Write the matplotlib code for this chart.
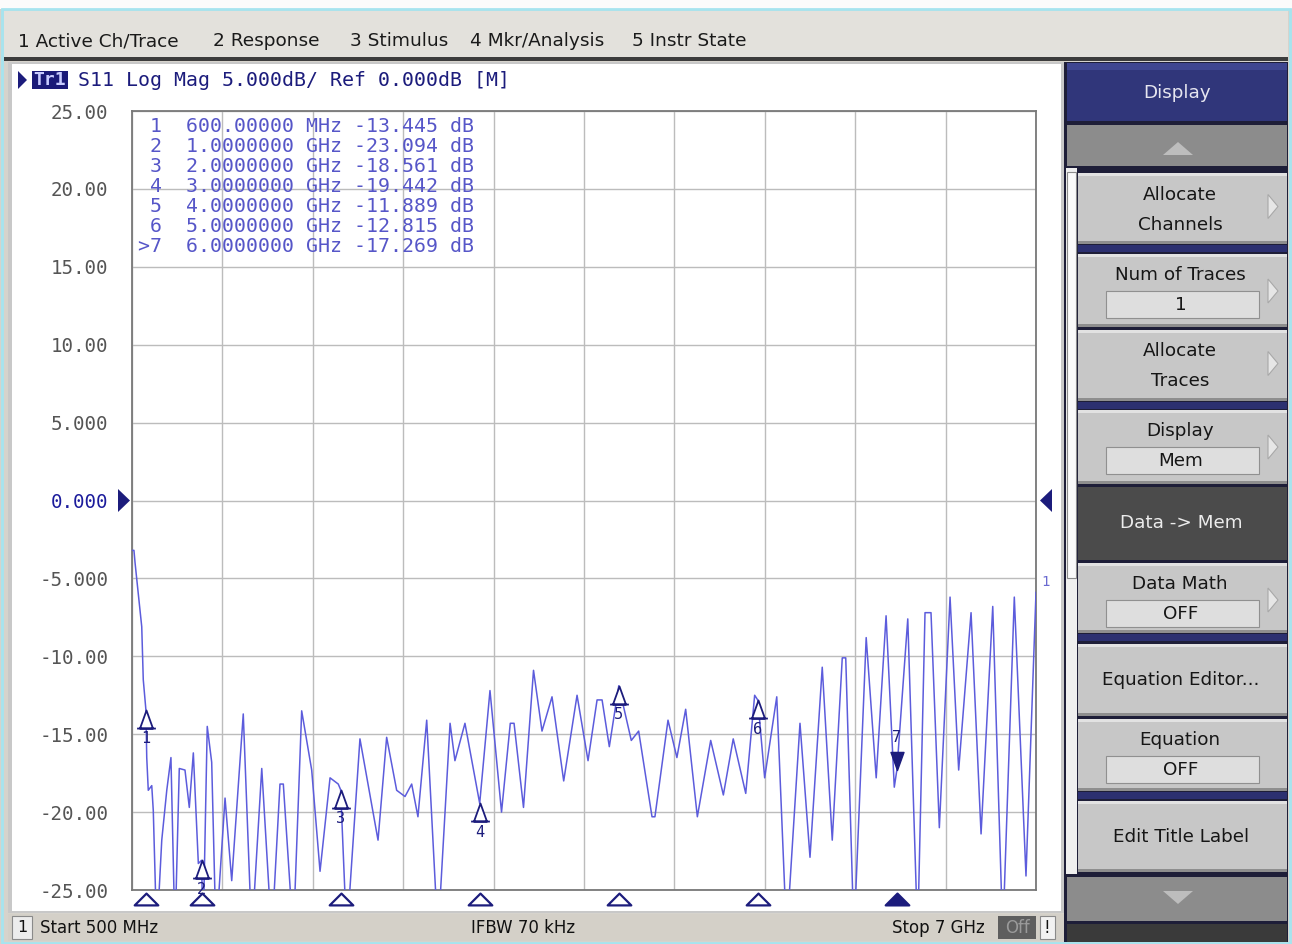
import numpy as np
import matplotlib
matplotlib.use("Agg")
import matplotlib.pyplot as plt
from matplotlib.patches import Rectangle, Polygon
from matplotlib.path import Path
import matplotlib.transforms as mtransforms

# ---------------------------------------------------------------- data
freq_ghz = [0.500, 0.514, 0.522, 0.543, 0.570, 0.581, 0.600, 0.606, 0.617, 0.642,
            0.653, 0.678, 0.714, 0.750, 0.780, 0.809, 0.840, 0.881, 0.912, 0.941,
            0.977, 1.000, 1.011, 1.041, 1.073, 1.104, 1.169, 1.217, 1.300, 1.361,
            1.433, 1.505, 1.564, 1.588, 1.660, 1.720, 1.792, 1.852, 1.924, 1.983,
            2.000, 2.044, 2.139, 2.269, 2.331, 2.403, 2.463, 2.511, 2.556, 2.619,
            2.700, 2.787, 2.822, 2.894, 3.000, 3.074, 3.157, 3.220, 3.247, 3.315,
            3.387, 3.448, 3.520, 3.604, 3.700, 3.779, 3.844, 3.880, 3.932, 4.000,
            4.090, 4.143, 4.239, 4.260, 4.354, 4.418, 4.481, 4.565, 4.661, 4.752,
            4.823, 4.913, 4.977, 5.000, 5.049, 5.136, 5.207, 5.303, 5.375, 5.463,
            5.535, 5.607, 5.632, 5.691, 5.779, 5.851, 5.922, 5.981, 6.000, 6.078,
            6.149, 6.202, 6.245, 6.305, 6.382, 6.444, 6.533, 6.605, 6.689, 6.761,
            6.844, 6.928, 7.000]
s11_db = [-3.2, -3.2, -4.0, -5.8, -8.1, -11.5, -13.445, -16.5, -18.6, -18.3,
          -19.9, -28.0, -21.8, -18.6, -16.5, -28.0, -17.2, -17.3, -19.7, -16.2,
          -23.3, -23.094, -28.0, -14.5, -16.8, -28.0, -19.1, -24.4, -13.7, -28.0,
          -17.2, -28.0, -18.2, -18.2, -28.0, -13.5, -17.3, -23.8, -17.8, -18.2,
          -18.561, -28.0, -15.3, -21.8, -15.2, -18.6, -19.0, -18.2, -20.3, -14.1,
          -28.0, -14.3, -16.7, -14.3, -19.442, -12.2, -20.0, -14.3, -14.3, -19.7,
          -10.9, -14.8, -12.6, -18.0, -12.5, -16.7, -12.8, -12.8, -15.8, -11.889,
          -15.4, -14.8, -20.3, -20.3, -14.1, -16.5, -13.4, -20.3, -15.4, -18.9,
          -15.3, -18.8, -12.5, -12.815, -17.8, -12.6, -28.0, -14.3, -22.9, -10.7,
          -21.8, -10.1, -10.1, -28.0, -8.8, -17.8, -7.4, -18.4, -17.269, -7.6,
          -28.0, -7.2, -7.2, -21.0, -6.2, -17.3, -7.2, -21.4, -6.8, -28.0,
          -6.2, -24.1, -5.9]

marker_ids = [1, 2, 3, 4, 5, 6, 7]
marker_freq_ghz = [0.6, 1.0, 2.0, 3.0, 4.0, 5.0, 6.0]
marker_db = [-13.445, -23.094, -18.561, -19.442, -11.889, -12.815, -17.269]
active_marker = 7

start_ghz, stop_ghz = 0.5, 7.0
ref_db, scale_db = 0.0, 5.0
ytick_labels = ["-25.00", "-20.00", "-15.00", "-10.00", "-5.000", "0.000",
                "5.000", "10.00", "15.00", "20.00", "25.00"]

menu_items = ["1 Active Ch/Trace", "2 Response", "3 Stimulus",
              "4 Mkr/Analysis", "5 Instr State"]
header_text = "S11 Log Mag 5.000dB/ Ref 0.000dB [M]"
status_left = "Start 500 MHz"
status_mid = "IFBW 70 kHz"
status_right = "Stop 7 GHz"

# ---------------------------------------------------------------- canvas helpers
W, H = 1292, 944
fig = plt.figure(figsize=(W / 100, H / 100), dpi=100)
fig.patch.set_facecolor("#d6d3cc")

NAVY = "#1c1c7c"
TRACE = "#5c5cdc"
TABLE = "#5656c8"
UI_FONT = "DejaVu Sans"
MONO = "DejaVu Sans Mono"


def X(x):
    return x / W


def Y(y):
    return 1 - y / H


def box(x0, y0, x1, y1, fc, ec="none", lw=0.0, z=0):
    fig.patches.append(Rectangle((X(x0), Y(y1)), (x1 - x0) / W, (y1 - y0) / H,
                                 transform=fig.transFigure, facecolor=fc,
                                 edgecolor=ec, linewidth=lw, zorder=z))


def poly(pts, fc, ec="none", lw=0.0, z=6):
    fig.patches.append(Polygon([(X(a), Y(b)) for a, b in pts], closed=True,
                               transform=fig.transFigure, facecolor=fc,
                               edgecolor=ec, linewidth=lw, zorder=z))


def label(x, y, s, ha="left", **kw):
    kw.setdefault("zorder", 7)
    fig.text(X(x), Y(y), s, ha=ha, va="center", **kw)


# ---------------------------------------------------------------- window frame
box(0, 0, W, 9, "#fbfbfb")
box(2, 9, W - 2, H - 1, "none", ec="#a6e4ef", lw=2.0, z=1)
box(4, 11, W - 4, 57, "#e3e1dc")
box(4, 57, W - 4, 61, "#3c3c3c")

menu_x = [18, 213, 350, 470, 632]
for mx, item in zip(menu_x, menu_items):
    label(mx, 41, item, fontsize=13.3, family=UI_FONT, color="#1a1a1a")

# channel window
box(8, 62, 1064, 913, "#c8c8c8")
box(12, 64, 1061, 911, "#ffffff")

# status bar
box(8, 914, 1064, 941, "#d4d0c8")
box(12, 916, 32, 939, "#ececec", ec="#8a8a8a", lw=0.8)
label(22, 928, "1", ha="center", fontsize=11.5, family=UI_FONT, color="#111111")
label(40, 928, status_left, fontsize=12, family=UI_FONT, color="#111111")
label(523, 928, status_mid, ha="center", fontsize=12, family=UI_FONT, color="#111111")
label(985, 928, status_right, ha="right", fontsize=12, family=UI_FONT, color="#111111")
box(998, 916, 1036, 939, "#5e5e5e")
label(1017, 928, "Off", ha="center", fontsize=12, family=UI_FONT, color="#9a9a9a")
box(1040, 916, 1055, 939, "#f2f2f2", ec="#8a8a8a", lw=0.8)
label(1047, 928, "!", ha="center", fontsize=12, family=UI_FONT, color="#111111")

# ---------------------------------------------------------------- soft key panel
SK = 13.2
box(1064, 62, W - 4, H - 2, "#1e1e38")
box(1067, 63, 1287, 121, "#30367a")
box(1067, 63, 1287, 70, "#3f4690")
label(1177, 93, "Display", ha="center", fontsize=SK, family=UI_FONT, color="#e6e6f0")

box(1067, 125, 1287, 166, "#8c8c8c")
poly([(1163, 155), (1193, 155), (1178, 142)], "#bdbdbd")
box(1067, 877, 1287, 921, "#8c8c8c")
poly([(1163, 891), (1193, 891), (1178, 904)], "#bdbdbd")
box(1067, 924, 1287, H - 2, "#3a3a3a")

# scroll strip
box(1066, 168, 1077, 874, "#efefef")
box(1067, 172, 1076, 578, "#fafafa", ec="#8c8c8c", lw=0.8)

softkeys = [
    (173, 244, ["Allocate", "Channels"], None, True, False),
    (254, 327, ["Num of Traces"], "1", True, False),
    (330, 401, ["Allocate", "Traces"], None, True, False),
    (410, 484, ["Display"], "Mem", True, False),
    (487, 560, ["Data -> Mem"], None, False, True),
    (563, 633, ["Data Math"], "OFF", True, False),
    (644, 716, ["Equation Editor..."], None, False, False),
    (719, 791, ["Equation"], "OFF", False, False),
    (801, 872, ["Edit Title Label"], None, False, False),
]
for y0, y1, lines, field, arrow, dark in softkeys:
    if dark:
        box(1078, y0, 1287, y1, "#4b4b4b")
        fg = "#ececec"
    else:
        box(1078, y0, 1287, y1, "#c7c7c7")
        box(1078, y0, 1287, y0 + 3, "#e2e2e2")
        box(1078, y1 - 3, 1287, y1, "#8e8e8e")
        fg = "#161616"
    yc = (y0 + y1) / 2
    if field is not None:
        label(1180, y0 + 21, lines[0], ha="center", fontsize=SK, family=UI_FONT, color=fg)
        box(1106, y0 + 37, 1259, y0 + 64, "#dedede", ec="#909090", lw=0.8)
        label(1181, y0 + 51, field, ha="center", fontsize=SK, family=UI_FONT, color=fg)
    elif len(lines) == 2:
        label(1180, yc - 14, lines[0], ha="center", fontsize=SK, family=UI_FONT, color=fg)
        label(1180, yc + 16, lines[1], ha="center", fontsize=SK, family=UI_FONT, color=fg)
    else:
        label(1181, yc, lines[0], ha="center", fontsize=SK, family=UI_FONT, color=fg)
    if arrow:
        ya = yc - 2 if field is None else y0 + 37
        poly([(1268, ya - 12), (1268, ya + 12), (1278, ya)], "#e6e6e6", ec="#a8a8a8", lw=0.8)

# navy separators between groups
for ys in (245, 402, 634, 792):
    box(1078, ys, 1287, ys + 7, "#2c3070")

# ---------------------------------------------------------------- trace header
poly([(18, 71), (18, 89), (27, 80)], NAVY)
box(32, 71, 68, 89, "#1a1a78", z=5)
label(50, 80, "Tr1", ha="center", fontsize=13, family=MONO, color="#c8ccff",
      fontweight="bold")
label(78, 80, header_text, fontsize=14.3, family=MONO, color=NAVY)

# ---------------------------------------------------------------- plot area
L, R, T, B = 132, 1036, 111, 890
ax = fig.add_axes([X(L), Y(B), (R - L) / W, (B - T) / H])
ax.set_zorder(3)
ax.set_facecolor("white")
ax.set_xlim(start_ghz, stop_ghz)
ax.set_ylim(ref_db - 5 * scale_db, ref_db + 5 * scale_db)
ax.set_xticks(np.linspace(start_ghz, stop_ghz, 11))
ax.set_yticks(np.arange(ref_db - 5 * scale_db, ref_db + 5 * scale_db + 1, scale_db))
ax.set_xticklabels([])
ax.set_yticklabels(ytick_labels, family=MONO, fontsize=13.8, color="#555555")
for tl, txt in zip(ax.get_yticklabels(), ytick_labels):
    if txt == "0.000":
        tl.set_color("#1c1c9c")
ax.tick_params(length=0, pad=17)
ax.grid(True, color="#bcbcbc", linewidth=1.0)
ax.set_axisbelow(True)
for sp in ax.spines.values():
    sp.set_color("#787878")
    sp.set_linewidth(1.3)

ax.plot(freq_ghz, s11_db, color=TRACE, linewidth=1.1, zorder=3)

# reference-level pointers
poly([(118, 489), (118, 512), (130, 500.5)], NAVY)
poly([(1052, 489), (1052, 512), (1040, 500.5)], NAVY)
label(1041, 582, "1", fontsize=10, family=MONO, color="#6a6ad0")

# marker readout table
for i, (mid, mf, mv) in enumerate(zip(marker_ids, marker_freq_ghz, marker_db)):
    tag = (">" if mid == active_marker else " ") + str(mid)
    ftxt = f"{mf * 1000:.5f} MHz" if mf < 1 else f"{mf:.7f} GHz"
    line = f"{tag}  {ftxt} {mv:.3f} dB"
    label(138, 126 + 20 * i, line, fontsize=14.3, family=MONO, color=TABLE)

# marker glyphs on the trace
up_tri = Path([(0, 0), (-0.36, -1), (0.36, -1), (0, 0), (-0.52, -1), (0.52, -1)],
              [Path.MOVETO, Path.LINETO, Path.LINETO, Path.CLOSEPOLY,
               Path.MOVETO, Path.LINETO])
down_tri = Path([(0, 0), (-0.36, 1), (0.36, 1), (0, 0)],
                [Path.MOVETO, Path.LINETO, Path.LINETO, Path.CLOSEPOLY])
for mid, mf, mv in zip(marker_ids, marker_freq_ghz, marker_db):
    if mid == active_marker:
        ax.plot([mf], [mv], marker=down_tri, markersize=26, color=NAVY,
                markerfacecolor=NAVY, markeredgewidth=1.0, zorder=5)
        ax.annotate(str(mid), (mf, mv), xytext=(0, 32), textcoords="offset pixels",
                    ha="center", va="center", fontsize=11, family=MONO,
                    color=NAVY, zorder=6)
    else:
        ax.plot([mf], [mv], marker=up_tri, markersize=26, color=NAVY,
                markerfacecolor="white", markeredgewidth=1.3, zorder=5)
        ax.annotate(str(mid), (mf, mv), xytext=(0, -29), textcoords="offset pixels",
                    ha="center", va="center", fontsize=11, family=MONO,
                    color=NAVY, zorder=6, annotation_clip=False)

# stimulus markers below the grid
flat_tri = Path([(0, 0.5), (-1, -0.5), (1, -0.5), (0, 0.5)],
                [Path.MOVETO, Path.LINETO, Path.LINETO, Path.CLOSEPOLY])
blend = mtransforms.blended_transform_factory(ax.transData, fig.transFigure)
for mid, mf in zip(marker_ids, marker_freq_ghz):
    fc = NAVY if mid == active_marker else "white"
    ax.plot([mf], [Y(899)], transform=blend, marker=flat_tri, markersize=17,
            color=NAVY, markerfacecolor=fc, markeredgewidth=1.6, clip_on=False,
            zorder=6)

fig.savefig("out.png", dpi=100, facecolor=fig.get_facecolor())
